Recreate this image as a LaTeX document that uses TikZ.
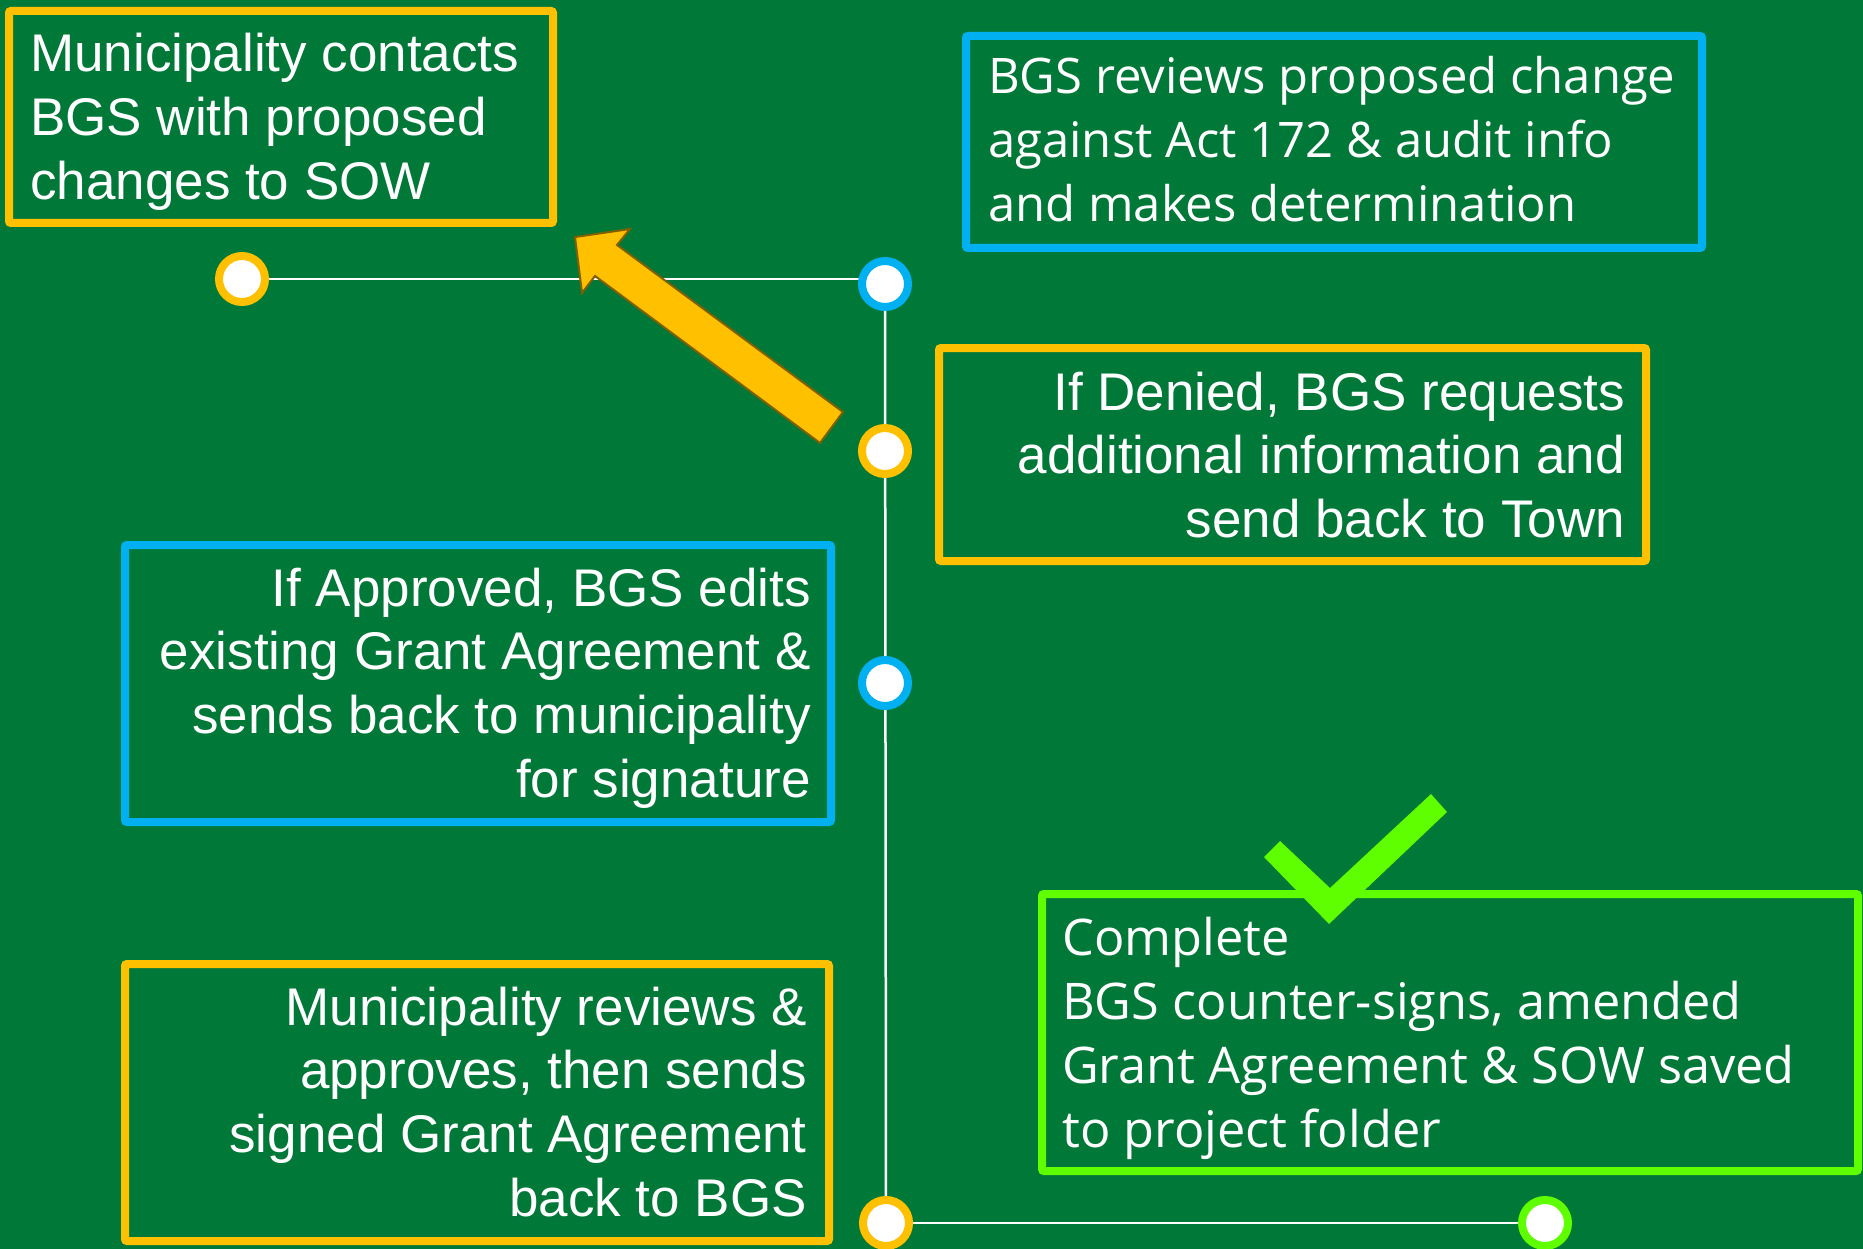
\documentclass[tikz,border=0pt]{standalone}
\usepackage{fontspec}
\newfontfamily\arialfont{Liberation Sans}
\newfontfamily\aptosfont{Open Sans}
\pgfdeclarelayer{bglayer}
\pgfsetlayers{bglayer,main}
\definecolor{bggreen}{RGB}{0,120,56}
\definecolor{ylw}{RGB}{255,192,0}
\definecolor{blu}{RGB}{0,176,240}
\definecolor{lime}{RGB}{95,255,0}
\definecolor{arrowedge}{RGB}{127,96,0}
\tikzset{
  box/.style={rectangle, line width=8pt, rounded corners=2pt, inner sep=0pt, fill=none},
  dot/.style={circle, line width=8pt, fill=white, minimum size=46pt, inner sep=0pt},
  txta/.style={font=\arialfont\fontsize{53}{63.7}\selectfont, text=white, inner sep=0pt},
  txtb/.style={font=\aptosfont\fontsize{49}{64}\selectfont, text=white, inner sep=0pt},
  txtc/.style={font=\aptosfont\fontsize{50.5}{64}\selectfont, text=white, inner sep=0pt},
  link/.style={draw=white, line width=2.5pt},
  bigarrow/.style={fill=ylw, draw=arrowedge, line width=2pt, line join=miter},
  tick/.style={fill=lime, draw=none}
}
\begin{document}
\begin{tikzpicture}[x=1pt,y=-1pt]
\begin{pgfonlayer}{bglayer}
\fill[bggreen] (0,0) rectangle (1863,1249);
\end{pgfonlayer}
\useasboundingbox (0,0) rectangle (1863,1249);

% boxes
\node[box, draw=ylw, minimum width=544pt, minimum height=212pt] (b1) at (281,117) {};
\node[box, draw=blu, minimum width=736pt, minimum height=212pt] (b2) at (1334,142) {};
\node[box, draw=ylw, minimum width=707pt, minimum height=213pt] (b3) at (1292.5,454.5) {};
\node[box, draw=blu, minimum width=706pt, minimum height=277pt] (b4) at (478,683.5) {};
\node[box, draw=ylw, minimum width=704pt, minimum height=277pt] (b5) at (477,1102.5) {};
\node[box, draw=lime, minimum width=816pt, minimum height=277pt] (b6) at (1450,1032.5) {};

% texts
\node[txta, anchor=base west] (t1) at (30,72)
  {\begin{tabular}[t]{@{}l@{}}Municipality contacts\\BGS with proposed\\changes to SOW\end{tabular}};
\node[txtb, anchor=base west] (t2) at (988,94)
  {\begin{tabular}[t]{@{}l@{}}BGS reviews proposed change\\against Act 172 \& audit info\\and makes determination\end{tabular}};
\node[txta, anchor=base east] (t3) at (1625,410)
  {\begin{tabular}[t]{@{}r@{}}If Denied, BGS requests\\additional information and\\send back to Town\end{tabular}};
\node[txta, anchor=base east] (t4) at (811,606)
  {\begin{tabular}[t]{@{}r@{}}If Approved, BGS edits\\existing Grant Agreement \&\\sends back to municipality\\for signature\end{tabular}};
\node[txta, anchor=base east] (t5) at (807,1025)
  {\begin{tabular}[t]{@{}r@{}}Municipality reviews \&\\approves, then sends\\signed Grant Agreement\\back to BGS\end{tabular}};
\node[txtc, anchor=base west] (t6) at (1062,955)
  {\begin{tabular}[t]{@{}l@{}}Complete\\BGS counter-signs, amended\\Grant Agreement \& SOW saved\\to project folder\end{tabular}};

% timeline dots
\node[dot, draw=ylw] (c1) at (242,279) {};
\node[dot, draw=blu] (c2) at (885,284) {};
\node[dot, draw=ylw] (c3) at (885,451) {};
\node[dot, draw=blu] (c4) at (885,683) {};
\node[dot, draw=ylw] (c6) at (886,1223) {};
\node[dot, draw=lime] (c7) at (1545,1223) {};

% connectors
\begin{pgfonlayer}{bglayer}
\draw[link] (c1) -- (c1 -| c2);
\draw[link] (c2) -- (c6);
\draw[link] (c6) -- (c7);
\end{pgfonlayer}

% block arrow
\draw[bigarrow] (575,237) -- (630,229) -- (617,245) -- (843,412) -- (820,443) -- (595,276) -- (582,293) -- cycle;

% check mark
\fill[tick] (1264,857) -- (1280,841) -- (1330,888) -- (1431,794) -- (1447,812) -- (1329,924) -- cycle;
\end{tikzpicture}
\end{document}
